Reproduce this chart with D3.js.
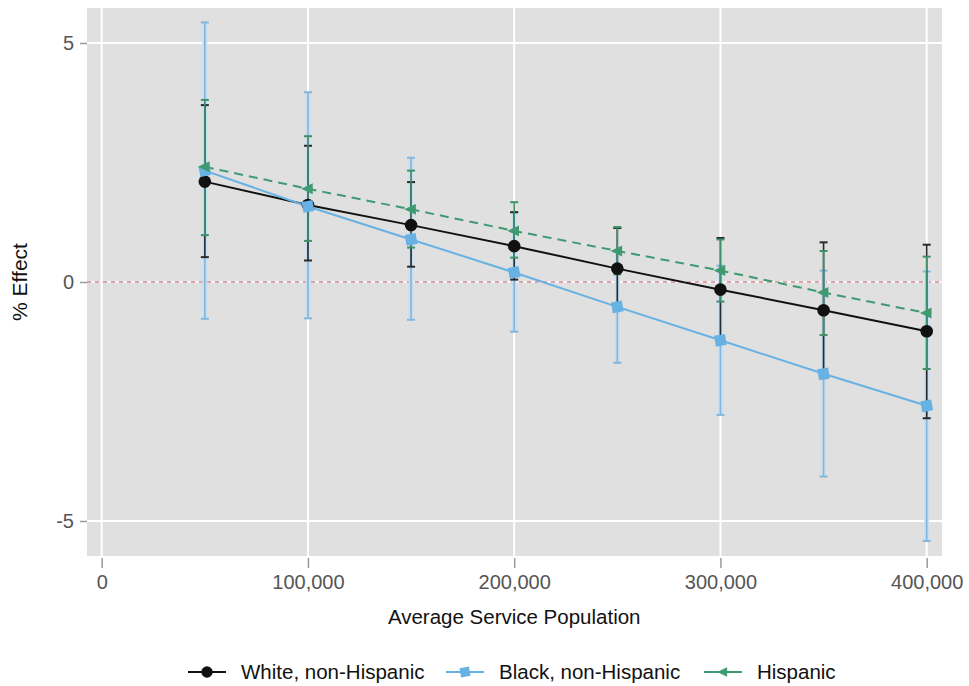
<!DOCTYPE html>
<html>
<head>
<meta charset="utf-8">
<script src="https://cdn.jsdelivr.net/npm/d3@7"></script>
<style>
  html, body { margin: 0; padding: 0; background: #fff; }
  svg { display: block; font-family: "Liberation Sans", Arial, sans-serif; }
</style>
</head>
<body>
<svg id="chart" width="969" height="686"></svg>
<script>
// Average service population (x) for each estimate
const population = [50000, 100000, 150000, 200000, 250000, 300000, 350000, 400000];

// White, non-Hispanic: estimate and 95% interval
const whiteEst = [2.10, 1.61, 1.19, 0.75, 0.28, -0.16, -0.59, -1.03];
const whiteLo  = [0.52, 0.45, 0.32, 0.05, -0.57, -1.24, -2.01, -2.85];
const whiteHi  = [3.70, 2.85, 2.09, 1.46, 1.13, 0.92, 0.83, 0.78];

// Black, non-Hispanic
const blackEst = [2.33, 1.58, 0.89, 0.20, -0.52, -1.22, -1.92, -2.59];
const blackLo  = [-0.77, -0.76, -0.79, -1.04, -1.69, -2.78, -4.07, -5.42];
const blackHi  = [5.43, 3.97, 2.60, 1.46, 0.65, 0.34, 0.24, 0.22];

// Hispanic
const hispEst = [2.41, 1.95, 1.52, 1.07, 0.65, 0.24, -0.22, -0.65];
const hispLo  = [0.98, 0.86, 0.72, 0.51, 0.16, -0.41, -1.11, -1.82];
const hispHi  = [3.81, 3.05, 2.33, 1.67, 1.15, 0.89, 0.65, 0.53];

const xTicks = [0, 100000, 200000, 300000, 400000];
const yTicks = [-5, 0, 5];
const seriesNames = ["White, non-Hispanic", "Black, non-Hispanic", "Hispanic"];

const svg = d3.select("#chart");
const panel = { left: 87, right: 942, top: 8, bottom: 556 };

const x = d3.scaleLinear().domain([0, 400000]).range([101.7, 926.7]);
const y = d3.scaleLinear().domain([5, -5]).range([43, 521]);

// grey panel
svg.append("rect")
  .attr("x", panel.left).attr("y", panel.top)
  .attr("width", panel.right - panel.left).attr("height", panel.bottom - panel.top)
  .attr("fill", "#e0e0e0");

// white gridlines
svg.append("g").selectAll("line").data(xTicks).join("line")
  .attr("x1", d => x(d)).attr("x2", d => x(d))
  .attr("y1", panel.top).attr("y2", panel.bottom)
  .attr("stroke", "#fff").attr("stroke-width", 2);
svg.append("g").selectAll("line").data(yTicks).join("line")
  .attr("x1", panel.left).attr("x2", panel.right)
  .attr("y1", d => y(d)).attr("y2", d => y(d))
  .attr("stroke", "#fff").attr("stroke-width", 2);

// zero reference line
svg.append("line")
  .attr("x1", panel.left).attr("x2", panel.right)
  .attr("y1", y(0)).attr("y2", y(0))
  .attr("stroke", "#fbf3f4").attr("stroke-width", 2);
svg.append("line")
  .attr("x1", panel.left).attr("x2", panel.right)
  .attr("y1", y(0)).attr("y2", y(0))
  .attr("stroke", "#d9a5ad").attr("stroke-width", 2)
  .attr("stroke-dasharray", "4,4");

// axes
const tickFont = 20;
const xAxis = d3.axisBottom(x).tickValues(xTicks).tickSize(10).tickPadding(7)
  .tickFormat(d3.format(","));
const gx = svg.append("g").attr("transform", `translate(0,${panel.bottom + 2})`).call(xAxis);
gx.select(".domain").remove();
gx.selectAll(".tick line").attr("stroke", "#999").attr("stroke-width", 1.5);
gx.selectAll(".tick text").attr("fill", "#555").attr("font-size", tickFont)
  .attr("font-family", "Liberation Sans, Arial, sans-serif");

// y labels keep the plain hyphen for negatives
const yAxis = d3.axisLeft(y).tickValues(yTicks).tickSize(7).tickPadding(6)
  .tickFormat(d => String(d));
const gy = svg.append("g").attr("transform", `translate(${panel.left},0)`).call(yAxis);
gy.select(".domain").remove();
gy.selectAll(".tick line").attr("stroke", "#999").attr("stroke-width", 1.5);
gy.selectAll(".tick text").attr("fill", "#555").attr("font-size", tickFont)
  .attr("font-family", "Liberation Sans, Arial, sans-serif");

// axis titles
svg.append("text")
  .attr("x", (x(0) + x(400000)) / 2).attr("y", 624)
  .attr("text-anchor", "middle").attr("font-size", 20.5).attr("fill", "#111")
  .text("Average Service Population");
svg.append("text")
  .attr("transform", `translate(27,${y(0)}) rotate(-90)`)
  .attr("text-anchor", "middle").attr("font-size", 21).attr("fill", "#111")
  .text("% Effect");

const series = [
  { name: seriesNames[0], est: whiteEst, lo: whiteLo, hi: whiteHi, color: "#111", bar: "#2a2a2a", dash: null, shape: "circle" },
  { name: seriesNames[1], est: blackEst, lo: blackLo, hi: blackHi, color: "#67b1e3", bar: "#82b6dc", dash: null, shape: "square" },
  { name: seriesNames[2], est: hispEst, lo: hispLo, hi: hispHi, color: "#3f9a72", bar: "#3f8f69", dash: "9,6", shape: "triangle" }
];

function rows(s) {
  return population.map((p, i) => ({ p, est: s.est[i], lo: s.lo[i], hi: s.hi[i] }));
}

// error bars: blue first, then black, then green
const barOrder = [series[1], series[0], series[2]];
barOrder.forEach(s => {
  const g = svg.append("g");
  const data = rows(s);
  if (s.shape === "square") {
    g.selectAll("line.halo").data(data).join("line").attr("class", "halo")
      .attr("x1", d => x(d.p)).attr("x2", d => x(d.p))
      .attr("y1", d => y(d.lo)).attr("y2", d => y(d.hi))
      .attr("stroke", "#c9def0").attr("stroke-width", 5);
  }
  g.selectAll("line.v").data(data).join("line").attr("class", "v")
    .attr("x1", d => x(d.p)).attr("x2", d => x(d.p))
    .attr("y1", d => y(d.lo)).attr("y2", d => y(d.hi))
    .attr("stroke", s.bar).attr("stroke-width", 1.6);
  ["lo", "hi"].forEach(k => {
    g.selectAll("line.c" + k).data(data).join("line").attr("class", "c" + k)
      .attr("x1", d => x(d.p) - 4).attr("x2", d => x(d.p) + 4)
      .attr("y1", d => y(d[k])).attr("y2", d => y(d[k]))
      .attr("stroke", s.bar).attr("stroke-width", 2);
  });
});

// connecting lines
const line = d3.line().x(d => x(d.p)).y(d => y(d.est));
series.forEach(s => {
  svg.append("path").datum(rows(s))
    .attr("d", line).attr("fill", "none")
    .attr("stroke", s.color).attr("stroke-width", 2)
    .attr("stroke-dasharray", s.dash);
});

// markers
function drawMarker(g, shape, color, cx, cy, size) {
  if (shape === "circle") {
    g.append("circle").attr("cx", cx).attr("cy", cy).attr("r", size * 0.6).attr("fill", color);
  } else if (shape === "square") {
    g.append("rect").attr("x", cx - size * 0.5).attr("y", cy - size * 0.5)
      .attr("width", size).attr("height", size).attr("fill", color)
      .attr("transform", `rotate(-10,${cx},${cy})`);
  } else {
    const r = size * 0.62;
    g.append("path")
      .attr("d", `M${cx - r},${cy} L${cx + r * 0.7},${cy - r * 0.8} L${cx + r * 0.7},${cy + r * 0.8} Z`)
      .attr("fill", color);
  }
}
series.forEach(s => {
  const g = svg.append("g");
  rows(s).forEach(d => drawMarker(g, s.shape, s.color, x(d.p), y(d.est), s.shape === "circle" ? 10.5 : 11));
});

// legend
const legendItems = [
  { s: series[0], x0: 188, tx: 241 },
  { s: series[1], x0: 446, tx: 499 },
  { s: series[2], x0: 704, tx: 757 }
];
const ly = 672;
legendItems.forEach(it => {
  const g = svg.append("g");
  g.append("line").attr("x1", it.x0).attr("x2", it.x0 + 38)
    .attr("y1", ly).attr("y2", ly).attr("stroke", it.s.color).attr("stroke-width", 2);
  drawMarker(g, it.s.shape, it.s.color, it.x0 + 19, ly, 9.5);
  g.append("text").attr("x", it.tx).attr("y", ly + 7)
    .attr("font-size", 20.5).attr("fill", "#111").text(it.s.name);
});
</script>
</body>
</html>
